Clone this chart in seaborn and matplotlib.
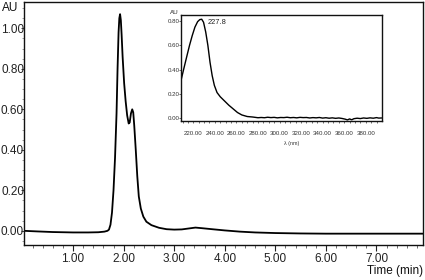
import numpy as np
import pandas as pd
import matplotlib
matplotlib.use("Agg")
import matplotlib.pyplot as plt
from matplotlib.ticker import MultipleLocator, FormatStrFormatter
import seaborn as sns

# chromatogram (main trace)
time_min = [0.03, 0.3, 0.6, 1.0, 1.3, 1.5, 1.62, 1.68, 1.71, 1.74, 1.77, 1.80, 1.83,
            1.86, 1.88, 1.90, 1.915, 1.93, 1.945, 1.96, 1.98, 2.01, 2.04, 2.07, 2.10,
            2.12, 2.145, 2.17, 2.19, 2.21, 2.24, 2.27, 2.30, 2.34, 2.39, 2.45, 2.55,
            2.70, 2.85, 3.00, 3.15, 3.30, 3.42, 3.55, 3.75, 4.00, 4.30, 4.60, 5.00,
            5.50, 6.00, 6.50, 7.00, 7.50, 7.92]
absorb = [0.000, -0.003, -0.006, -0.008, -0.008, -0.007, -0.004, 0.000, 0.006, 0.03,
          0.09, 0.20, 0.36, 0.58, 0.80, 0.98, 1.05, 1.07, 1.04, 0.97, 0.86, 0.73, 0.64,
          0.57, 0.53, 0.535, 0.58, 0.60, 0.585, 0.52, 0.40, 0.27, 0.17, 0.11, 0.07,
          0.045, 0.028, 0.015, 0.008, 0.006, 0.007, 0.012, 0.016, 0.013, 0.008, 0.002,
          -0.004, -0.008, -0.011, -0.013, -0.014, -0.014, -0.014, -0.014, -0.014]

# UV spectrum of the peak (inset)
wavelength = [208.6, 211, 214, 216.5, 219, 221.5, 224, 226, 227.8, 229.5, 231.5, 233.5,
              235.5, 237.5, 239.5, 242, 245, 249, 253, 257, 261, 265, 270, 275, 280,
              283, 286, 289, 292, 295, 298, 301, 304, 307, 310, 313, 316, 319, 322, 325,
              328, 331, 334, 337, 340, 343, 346, 349, 352, 355, 358, 361, 363, 365, 367,
              369, 372, 375, 378, 381, 384, 387, 390, 392, 394.8]
spectrum = [0.31, 0.40, 0.51, 0.60, 0.68, 0.75, 0.795, 0.812, 0.815, 0.79, 0.71, 0.60,
            0.46, 0.35, 0.27, 0.21, 0.175, 0.14, 0.105, 0.075, 0.045, 0.025, 0.012, 0.008,
            0.002, 0.004, 0.002, 0.006, 0.003, 0.005, 0.001, 0.004, 0.003, 0.006, 0.002,
            0.004, 0.001, 0.005, 0.003, 0.004, 0.000, 0.003, 0.001, 0.004, -0.001, 0.002,
            -0.002, 0.001, -0.003, 0.000, -0.004, -0.010, -0.016, -0.008, -0.015, -0.006,
            -0.002, -0.005, 0.000, -0.003, 0.001, -0.002, 0.003, -0.001, 0.000]
peak_nm = 227.8

sns.set_theme(style="ticks")
plt.rcParams['font.family'] = ['Liberation Sans', 'DejaVu Sans']
plt.rcParams['axes.linewidth'] = 1.0
plt.rcParams['axes.edgecolor'] = '#111111'

chrom = pd.DataFrame({"t": time_min, "au": absorb})
spec = pd.DataFrame({"nm": wavelength, "au": spectrum})

fig = plt.figure(figsize=(4.25, 2.8), dpi=100)
ax = fig.add_axes([24 / 425, 1 - 245 / 280, 399 / 425, 243 / 280])

sns.lineplot(data=chrom, x="t", y="au", ax=ax, color="black", linewidth=1.3)
ax.set_xlim(0.03, 7.92)
ax.set_ylim(-0.07, 1.13)
ax.xaxis.set_minor_locator(MultipleLocator(0.2))
ax.yaxis.set_major_locator(MultipleLocator(0.2))
ax.yaxis.set_minor_locator(MultipleLocator(0.05))
ax.xaxis.set_major_formatter(FormatStrFormatter('%.2f'))
ax.yaxis.set_major_formatter(FormatStrFormatter('%.2f'))
ax.set_xticks([1, 2, 3, 4, 5, 6, 7])
ax.tick_params(axis='x', which='major', length=4, width=0.8, pad=2, labelsize=8.5, colors='#222222')
ax.tick_params(axis='x', which='minor', length=2.5, width=0.6, colors='#555555')
ax.tick_params(axis='y', which='major', length=2, width=0.6, pad=-2, labelsize=8.5, colors='#222222')
ax.tick_params(axis='y', which='minor', length=1.5, width=0.5, colors='#777777')
ax.set_xlabel("Time (min)", loc='right', fontsize=8.5, labelpad=0, color='#111111')
ax.set_ylabel("")
fig.text(2 / 425, 1 - 8 / 280, "AU", fontsize=8.5, va='center', ha='left', color='#111111')

# inset spectrum
ax_in = fig.add_axes([180.7 / 425, 1 - 121 / 280, 201 / 425, 106 / 280])
sns.lineplot(data=spec, x="nm", y="au", ax=ax_in, color="black", linewidth=1.0)
ax_in.set_xlim(208.3, 394.8)
ax_in.set_ylim(-0.025, 0.85)
ax_in.set_xticks(np.arange(220, 381, 20))
ax_in.xaxis.set_minor_locator(MultipleLocator(5))
ax_in.set_yticks([0, 0.2, 0.4, 0.6, 0.8])
ax_in.xaxis.set_major_formatter(FormatStrFormatter('%.2f'))
ax_in.yaxis.set_major_formatter(FormatStrFormatter('%.2f'))
ax_in.tick_params(axis='x', which='both', length=1.5, width=0.5, pad=6, labelsize=4.4, colors='#333333')
ax_in.tick_params(axis='y', which='major', length=1.5, width=0.5, pad=-1, labelsize=4.4, colors='#333333')
for sp in ax_in.spines.values():
    sp.set_linewidth(1.0)
ax_in.set_xlabel("λ (nm)", fontsize=3.8, labelpad=1, color='#333333')
ax_in.xaxis.set_label_coords(0.55, -0.19)
ax_in.set_ylabel("")
ax_in.text(-0.055, 1.02, "AU", transform=ax_in.transAxes, fontsize=4.5, ha='left', va='center')
ax_in.annotate(f"{peak_nm}", xy=(peak_nm, max(spectrum)), xytext=(4, -2),
               textcoords="offset points", fontsize=5.4, ha='left', va='center', color='#222222')

fig.savefig("out.png", dpi=100)
